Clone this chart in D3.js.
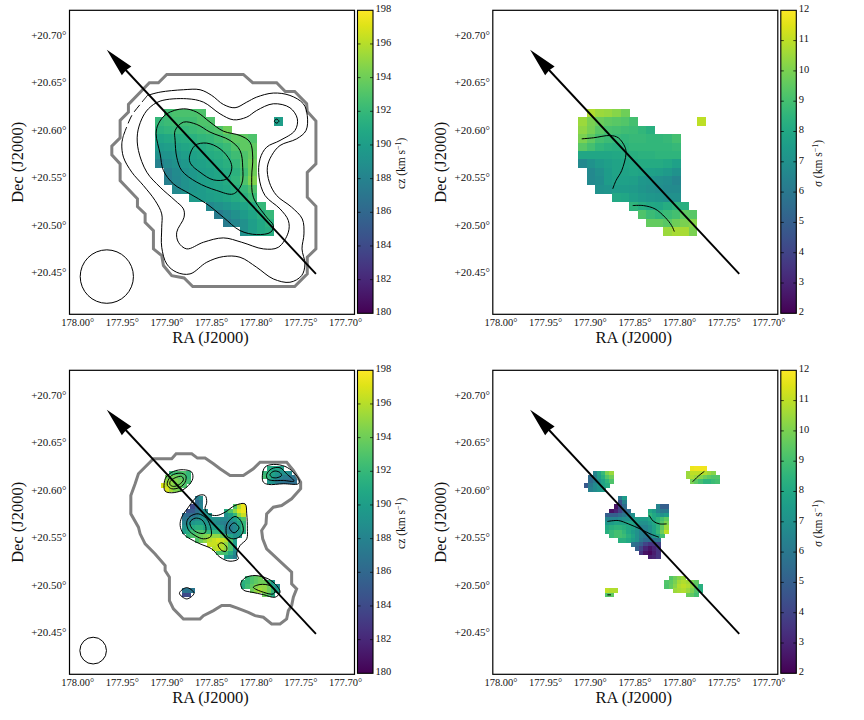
<!DOCTYPE html>
<html>
<head>
<meta charset="utf-8">
<script src="https://cdn.jsdelivr.net/npm/d3@7"></script>
<style>
  html, body { margin: 0; padding: 0; background: #fff; }
  svg { display: block; }
  text { font-family: "Liberation Serif", serif; fill: #111; }
</style>
</head>
<body>
<div id="chart"></div>
<script>
// sky axes, all four panels share them
const raTicks = [178.00, 177.95, 177.90, 177.85, 177.80, 177.75, 177.70]
const decTicks = [20.70, 20.65, 20.60, 20.55, 20.50, 20.45]
const czTicks = [180, 182, 184, 186, 188, 190, 192, 194, 196, 198]
const sigmaTicks = [2, 3, 4, 5, 6, 7, 8, 9, 10, 11, 12]

// pixel grids of the maps: first edge and step, degrees
const coarseGrid = { ra0: 177.9127, dRa: 0.00949, dec0: 20.6222, dDec: 0.00891 }
const fineGrid = { ra0: 177.9064, dRa: 0.00474, dec0: 20.6247, dDec: 0.00444 }

// rows are [row, first column, values]
const czCoarse = [
  [0, 1, [192.5, 192.8, 192.8, 192.8, 193]],
  [1, 0, [192, 192.3, 192.5, 192.5, 192.5, 193, 193]],
  [1, 14, [190]],
  [2, 0, [191.5, 191.8, 192, 192, 192.2, 192.5, 192.8, 193, 194]],
  [3, 0, [190.5, 190.8, 191, 191.2, 191.4, 191.8, 192, 192.5, 193, 193.5, 193.5, 193]],
  [4, 0, [189.8, 190, 190.3, 190.6, 190.8, 191, 191.4, 191.8, 192.2, 193, 193.5, 193.5]],
  [5, 0, [189, 189.3, 189.6, 190, 190.3, 190.6, 191, 191.3, 191.8, 192.4, 193, 193.7]],
  [6, 0, [188, 188.6, 189.2, 189.6, 190, 190.3, 190.6, 191, 191.4, 192, 193, 194]],
  [7, 1, [187.8, 188.6, 189.2, 189.6, 190, 190.3, 190.6, 191, 191.5, 192.5, 194]],
  [8, 1, [187.8, 188.5, 189.2, 189.6, 190, 190.3, 190.6, 191, 191.8, 193, 194.5]],
  [9, 2, [188.5, 189, 189.5, 189.8, 190.2, 190.5, 190.8, 191.2, 192, 193]],
  [10, 4, [189.8, 189.8, 190, 190.3, 190.6, 191, 191.5, 192.3]],
  [11, 6, [188.5, 189, 189.5, 190, 190.5, 191, 192]],
  [12, 7, [187.5, 188.3, 189, 189.8, 190.5, 191.3, 192]],
  [13, 8, [187.5, 188.3, 189, 190, 190.8, 191.5]],
  [14, 10, [189, 190, 190.8, 191.2]]
]

const sigmaCoarse = [
  [0, 1, [10.8, 10.5, 10.4, 10.2, 9.8]],
  [1, 0, [10.5, 10, 9.7, 9.5, 9.4, 9.3, 9]],
  [1, 14, [11]],
  [2, 0, [10.3, 9.9, 9.4, 9.1, 9, 8.9, 8.8, 8.6, 8.3]],
  [3, 0, [10, 9.5, 9, 8.8, 8.7, 8.6, 8.7, 8.7, 8.6, 8.6, 8.7, 9]],
  [4, 0, [9.4, 9, 8.6, 8.4, 8.3, 8.4, 8.6, 8.6, 8.6, 8.6, 8.6, 8.7]],
  [5, 0, [7.9, 7.9, 7.9, 7.9, 8, 8.1, 8.3, 8.4, 8.4, 8.5, 8.5, 8.5]],
  [6, 0, [6.7, 7.1, 7.4, 7.6, 7.8, 7.9, 8, 8.1, 8.1, 8.1, 8, 7.7]],
  [7, 1, [6.7, 7, 7.5, 7.8, 7.8, 7.9, 7.8, 7.7, 7.6, 7.4, 7.1]],
  [8, 1, [6.7, 6.9, 7.5, 7.7, 7.7, 7.6, 7.3, 7.2, 7, 6.9, 6.6]],
  [9, 2, [7.1, 7.2, 7.5, 7.5, 7.4, 7.2, 7, 6.9, 6.8, 6.8]],
  [10, 4, [8, 7.9, 7.6, 7.4, 7.3, 7.2, 7, 7]],
  [11, 6, [8.5, 8.2, 8, 7.9, 8.2, 8.5, 8.3]],
  [12, 7, [9.2, 8.8, 8.6, 8.8, 9, 9.5, 9.4]],
  [13, 8, [9.6, 9.6, 9.4, 9.8, 10, 10.2]],
  [14, 10, [10.5, 10.7, 10.7, 10]]
]

const czFine = [
  [0, 25, [191, 190.5, 190.5, 190]],
  [1, 2, [192, 192.5, 193, 193, 192]],
  [1, 24, [192, 191.5, 190.5, 189.5, 189, 189, 188.5]],
  [2, 1, [194, 194, 194, 193.5, 193, 192]],
  [2, 24, [192.5, 191.5, 190, 189, 188, 187.5, 187, 187]],
  [3, 1, [195, 195, 194.5, 194, 193.5, 192.5]],
  [3, 25, [189.5, 189, 187.5, 187, 186.5, 186.5, 186.5]],
  [4, 0, [197, 196, 195, 194.5, 194, 193]],
  [5, 1, [197, 195.5, 194.5, 194]],
  [7, 8, [187.5, 189]],
  [8, 8, [186, 187.5]],
  [9, 7, [184, 186, 188]],
  [9, 17, [193, 196, 197.5]],
  [10, 6, [184.5, 185, 186.5, 188, 189]],
  [10, 15, [191, 193, 195, 197, 197.5]],
  [11, 5, [186.5, 186, 186.5, 187.5, 188.5, 189, 189.5]],
  [11, 15, [189, 190, 192, 195, 196.5]],
  [12, 5, [187, 187.5, 188, 189, 189, 189, 189, 189, 189, 188.5, 188.5, 189, 190, 191.5, 193]],
  [13, 5, [188, 188.5, 189.5, 190, 190, 189.5, 189, 189, 188.5, 188, 187.5, 188, 189, 190.5, 192]],
  [14, 5, [189, 190, 191, 191.5, 191.5, 190.5, 190, 190, 190, 189, 187.5, 187.5, 188.5, 190, 192]],
  [15, 5, [190, 191, 192.5, 193, 193, 192.5, 192, 192, 192, 190.5, 188.5, 188, 188.5, 189.5, 191]],
  [16, 6, [192, 193, 193.5, 194, 194.5, 195, 195, 195, 194, 192.5, 190.5, 189, 189.5]],
  [17, 8, [193, 194, 195, 196, 196.5, 197, 196.5, 196, 193, 190]],
  [18, 11, [196.5, 196.5, 196.5, 196, 195, 193, 190]],
  [19, 12, [196, 196.5, 196, 195, 193, 189]],
  [20, 13, [193, 193, 192.5, 191, 188.5]],
  [21, 15, [190, 189, 187.5]],
  [26, 20, [192, 193, 193.5, 194]],
  [27, 19, [191.5, 192, 193, 193.5, 194, 194, 192, 189.5]],
  [28, 19, [191, 192.5, 193.5, 194.5, 195, 195, 194, 190.5, 188.5]],
  [29, 5, [187, 187, 187]],
  [29, 21, [194, 195, 195.5, 195, 194, 192, 190]],
  [30, 5, [184, 184]],
  [30, 24, [194, 193, 191]]
]

const sigmaFine = [
  [0, 25, [11.7, 11.8, 11.8, 11.8]],
  [1, 2, [6.5, 7.8, 8.7, 10, 10.5]],
  [1, 24, [10.5, 11, 11, 11, 10.8, 10.5, 10.2]],
  [2, 1, [5.5, 6.3, 7.5, 8.3, 9.3, 9.8]],
  [2, 24, [10.5, 10.8, 10.5, 10.2, 9.8, 9.5, 9.3, 9.3]],
  [3, 1, [5.5, 6.2, 7, 7.8, 8.5, 9.2]],
  [3, 25, [10, 9.5, 9, 8.5, 8.5, 8.8, 9]],
  [4, 0, [4.7, 6, 6.8, 7.3, 7.8, 8.2]],
  [5, 1, [6.3, 6.8, 7.2, 7.5]],
  [7, 8, [6, 7.5]],
  [8, 8, [4.5, 6.3]],
  [9, 7, [2.5, 4, 5.5]],
  [9, 17, [6.5, 5, 5]],
  [10, 6, [2.5, 3, 4, 5, 5.5]],
  [10, 15, [8, 7.5, 6.5, 6, 6]],
  [11, 5, [5, 5, 5, 5.5, 6, 6.5, 7]],
  [11, 15, [8.5, 8, 7.5, 7, 7.5]],
  [12, 5, [6.5, 6.5, 6.5, 6.8, 7, 7, 7.2, 7.5, 7.5, 7.5, 8, 8, 8.5, 9, 9.5]],
  [13, 5, [7.3, 7.5, 7.8, 7.8, 7.8, 7.8, 7.8, 7.5, 7, 7, 7.5, 8, 8.5, 9.3, 10]],
  [14, 5, [8, 8.3, 8.5, 8.5, 8.3, 8, 7.8, 7.2, 6.5, 6.5, 7, 7.8, 8.5, 9.5, 10.5]],
  [15, 5, [8.3, 8.7, 9, 9, 8.6, 8, 7.5, 7, 6.3, 6.3, 7, 7.8, 8.7, 9.8, 11]],
  [16, 6, [8.7, 9, 9, 8.8, 8.3, 7.8, 7, 6.3, 6, 6.3, 7.2, 8, 9]],
  [17, 8, [8.3, 8.3, 8, 7.5, 7, 6, 5.5, 5.5, 5.8, 6]],
  [18, 11, [5.8, 5.5, 5, 4, 3.5, 3.5, 4]],
  [19, 12, [5, 4, 3, 2.5, 3, 3.5]],
  [20, 13, [3.5, 2.5, 2.2, 2.8, 3.5]],
  [21, 15, [2.8, 3, 3.5]],
  [26, 20, [9.3, 9.8, 10.2, 10.5]],
  [27, 19, [9.3, 9.5, 10, 10.6, 10.8, 10.6, 10, 9.5]],
  [28, 19, [9.2, 9.6, 10.2, 10.8, 11, 10.8, 10.3, 9.5, 8.3]],
  [29, 5, [11, 10.8, 10.8]],
  [29, 21, [10.5, 10.7, 10.8, 10.5, 10, 9.3, 8.3]],
  [30, 5, [9.3, 9.5]],
  [30, 24, [9.7, 9.5, 9]]
]

// the position-angle arrow: tip then tail, [ra, dec]
const arrowEnds = [[177.9668, 20.6845], [177.7326, 20.448]]

// beam: centre ra, dec and radius along each axis, degrees
const beamTop = [177.9668, 20.4452, 0.0298, 0.0282]
const beamBottom = [177.9821, 20.4304, 0.0149, 0.0141]

// mask outlines, [ra, dec]
const outlineTop = [
  [177.8997, 20.6585], [177.8139, 20.6585], [177.8034, 20.6497], [177.7766, 20.6497], [177.7669, 20.6405],
  [177.7564, 20.6405], [177.7430, 20.6275], [177.7423, 20.6194], [177.7326, 20.6092], [177.7326, 20.5641],
  [177.7423, 20.5550], [177.7423, 20.5289], [177.7326, 20.5194], [177.7326, 20.4744], [177.7423, 20.4656],
  [177.7423, 20.4480], [177.7564, 20.4346], [177.8706, 20.4346], [177.8803, 20.4437], [177.8941, 20.4462],
  [177.9034, 20.4568], [177.9053, 20.4673], [177.9146, 20.4744], [177.9146, 20.4937], [177.9239, 20.5025],
  [177.9239, 20.5113], [177.9325, 20.5191], [177.9325, 20.5272], [177.9519, 20.5465], [177.9519, 20.5641],
  [177.9612, 20.5736], [177.9612, 20.5828], [177.9519, 20.5916], [177.9519, 20.6099], [177.9426, 20.6187],
  [177.9426, 20.6268], [177.9191, 20.6497], [177.9090, 20.6497]
]

const outlineBottom = [
  [177.9146, 20.6328], [177.8941, 20.6328], [177.8892, 20.6380], [177.8717, 20.6380], [177.8653, 20.6335],
  [177.8568, 20.6335], [177.8474, 20.6275], [177.8400, 20.6222], [177.8288, 20.6152], [177.8139, 20.6152],
  [177.8027, 20.6222], [177.7952, 20.6292], [177.7654, 20.6292], [177.7579, 20.6204], [177.7497, 20.6081],
  [177.7497, 20.6011], [177.7598, 20.5905], [177.7710, 20.5835], [177.7803, 20.5817], [177.7878, 20.5747],
  [177.7885, 20.5641], [177.7934, 20.5571], [177.7922, 20.5483], [177.7878, 20.5377], [177.7598, 20.5131],
  [177.7598, 20.5008], [177.7542, 20.4955], [177.7579, 20.4867], [177.7598, 20.4779], [177.7635, 20.4726],
  [177.7654, 20.4638], [177.7728, 20.4585], [177.7822, 20.4585], [177.7915, 20.4656], [177.8008, 20.4673],
  [177.8083, 20.4708], [177.8213, 20.4754], [177.8288, 20.4779], [177.8381, 20.4779], [177.8474, 20.4726],
  [177.8586, 20.4673], [177.8624, 20.4638], [177.8810, 20.4638], [177.8922, 20.4744], [177.8967, 20.4832],
  [177.8967, 20.5078], [177.9015, 20.5148], [177.9015, 20.5201], [177.9127, 20.5324], [177.9239, 20.5430],
  [177.9295, 20.5536], [177.9314, 20.5606], [177.9399, 20.5747], [177.9399, 20.5940], [177.9351, 20.6064],
  [177.9314, 20.6169]
]

// flux contours of the top left map
const fluxTopDashed = [[177.9482, 20.5940], [177.9388, 20.6152], [177.9295, 20.6268], [177.9213, 20.6363]]
const fluxTopOuter = [
  [177.9213, 20.6363], [177.9071, 20.6398], [177.8810, 20.6423], [177.8624, 20.6423], [177.8493, 20.6363],
  [177.8363, 20.6268], [177.8232, 20.6233], [177.8101, 20.6292], [177.7990, 20.6345], [177.7803, 20.6388],
  [177.7617, 20.6363], [177.7467, 20.6275], [177.7423, 20.6152], [177.7437, 20.5993], [177.7542, 20.5905],
  [177.7728, 20.5835], [177.7822, 20.5729], [177.7870, 20.5606], [177.7848, 20.5448], [177.7766, 20.5307],
  [177.7598, 20.5184], [177.7479, 20.5060], [177.7460, 20.4902], [177.7482, 20.4744], [177.7449, 20.4585],
  [177.7486, 20.4462], [177.7617, 20.4392], [177.7803, 20.4427], [177.7990, 20.4550], [177.8176, 20.4656],
  [177.8363, 20.4663], [177.8549, 20.4603], [177.8736, 20.4480], [177.8885, 20.4497], [177.8997, 20.4585],
  [177.9053, 20.4761], [177.9053, 20.4972], [177.9053, 20.5113], [177.9127, 20.5254], [177.9258, 20.5412],
  [177.9388, 20.5553], [177.9482, 20.5712], [177.9500, 20.5852], [177.9482, 20.5940]
]
const fluxTopB = [
  [177.9202, 20.6222], [177.9071, 20.6303], [177.8773, 20.6328], [177.8586, 20.6292], [177.8400, 20.6169],
  [177.8251, 20.6106], [177.8101, 20.6134], [177.7990, 20.6204], [177.7803, 20.6275], [177.7617, 20.6233],
  [177.7534, 20.6116], [177.7561, 20.5993], [177.7728, 20.5888], [177.7878, 20.5817], [177.7952, 20.5694],
  [177.7963, 20.5500], [177.7896, 20.5307], [177.7728, 20.5166], [177.7635, 20.5043], [177.7635, 20.4920],
  [177.7747, 20.4761], [177.7915, 20.4744], [177.8157, 20.4814], [177.8363, 20.4860], [177.8586, 20.4814],
  [177.8773, 20.4744], [177.8866, 20.4814], [177.8885, 20.4920], [177.8803, 20.5078], [177.8810, 20.5166],
  [177.8903, 20.5254], [177.9071, 20.5395], [177.9220, 20.5553], [177.9314, 20.5782], [177.9325, 20.5958],
  [177.9276, 20.6116]
]
const fluxTopC = [
  [177.9090, 20.6064], [177.8997, 20.6169], [177.8810, 20.6222], [177.8661, 20.6187], [177.8512, 20.6081],
  [177.8363, 20.5986], [177.8176, 20.5940], [177.8064, 20.5870], [177.8034, 20.5712], [177.8045, 20.5500],
  [177.8027, 20.5289], [177.7878, 20.5078], [177.7803, 20.4990], [177.7833, 20.4920], [177.7990, 20.4895],
  [177.8176, 20.4937], [177.8363, 20.5078], [177.8549, 20.5219], [177.8736, 20.5324], [177.8922, 20.5430],
  [177.9034, 20.5571], [177.9071, 20.5747], [177.9116, 20.5958]
]
const fluxTopD = [
  [177.8903, 20.5993], [177.8810, 20.6081], [177.8661, 20.6057], [177.8512, 20.5976], [177.8288, 20.5888],
  [177.8176, 20.5782], [177.8146, 20.5606], [177.8157, 20.5430], [177.8251, 20.5324], [177.8437, 20.5360],
  [177.8661, 20.5448], [177.8829, 20.5571], [177.8885, 20.5712], [177.8903, 20.5888]
]
const fluxTopE = [
  [177.8743, 20.5712], [177.8680, 20.5835], [177.8549, 20.5860], [177.8400, 20.5800], [177.8288, 20.5676],
  [177.8269, 20.5588], [177.8325, 20.5483], [177.8474, 20.5472], [177.8624, 20.5553], [177.8728, 20.5641]
]
const fluxTopDot = [[177.7792, 20.6092], [177.7766, 20.6113], [177.7740, 20.6092], [177.7766, 20.6071]]

// sigma-map contours are open lines
const sigmaTopLines = [
  [[177.9090, 20.5905], [177.8959, 20.5916], [177.8773, 20.5940], [177.8680, 20.5916], [177.8605, 20.5817],
   [177.8594, 20.5747], [177.8642, 20.5571], [177.8706, 20.5465], [177.8743, 20.5377]],
  [[177.8519, 20.5201], [177.8400, 20.5201], [177.8269, 20.5166], [177.8157, 20.5078], [177.8083, 20.4990],
   [177.8053, 20.4927]]
]

// flux contours of the bottom left map
const fluxBottom = [
  [[177.9026, 20.6064], [177.9004, 20.6134], [177.8922, 20.6194], [177.8810, 20.6212], [177.8717, 20.6187],
   [177.8706, 20.6116], [177.8754, 20.6046], [177.8829, 20.5993], [177.8941, 20.5969], [177.9015, 20.5986]],
  [[177.8989, 20.6081], [177.8941, 20.6152], [177.8847, 20.6176], [177.8784, 20.6152], [177.8791, 20.6081],
   [177.8847, 20.6028], [177.8941, 20.6011], [177.8989, 20.6046]],
  [[177.8959, 20.6088], [177.8903, 20.6127], [177.8829, 20.6141], [177.8810, 20.6106], [177.8855, 20.6057],
   [177.8922, 20.6036], [177.8959, 20.6053]],
  [[177.8847, 20.5624], [177.8829, 20.5712], [177.8754, 20.5817], [177.8698, 20.5888], [177.8642, 20.5940],
   [177.8568, 20.5940], [177.8549, 20.5870], [177.8568, 20.5800], [177.8530, 20.5747], [177.8437, 20.5729],
   [177.8344, 20.5764], [177.8232, 20.5835], [177.8120, 20.5852], [177.8101, 20.5747], [177.8094, 20.5588],
   [177.8101, 20.5483], [177.8176, 20.5412], [177.8213, 20.5324], [177.8195, 20.5272], [177.8288, 20.5247],
   [177.8400, 20.5289], [177.8493, 20.5377], [177.8624, 20.5430], [177.8736, 20.5483], [177.8810, 20.5536]],
  [[177.8773, 20.5659], [177.8736, 20.5719], [177.8642, 20.5747], [177.8549, 20.5694], [177.8501, 20.5588],
   [177.8504, 20.5508], [177.8586, 20.5483], [177.8680, 20.5518], [177.8754, 20.5578]],
  [[177.8736, 20.5659], [177.8680, 20.5701], [177.8605, 20.5684], [177.8560, 20.5613], [177.8568, 20.5546],
   [177.8642, 20.5546], [177.8717, 20.5596]],
  [[177.8333, 20.5571], [177.8318, 20.5648], [177.8232, 20.5719], [177.8169, 20.5676], [177.8139, 20.5571],
   [177.8176, 20.5508], [177.8251, 20.5483], [177.8318, 20.5508]],
  [[177.8295, 20.5599], [177.8243, 20.5652], [177.8187, 20.5599], [177.8243, 20.5546]],
  [[177.8422, 20.5420], [177.8381, 20.5441], [177.8325, 20.5395], [177.8333, 20.5353], [177.8381, 20.5360]],
  [[177.7926, 20.6152], [177.7896, 20.6240], [177.7803, 20.6268], [177.7672, 20.6247], [177.7579, 20.6187],
   [177.7512, 20.6099], [177.7523, 20.6064], [177.7691, 20.6064], [177.7859, 20.6057], [177.7915, 20.6081]],
  [[177.7878, 20.6162], [177.7822, 20.6222], [177.7728, 20.6233], [177.7654, 20.6169], [177.7572, 20.6092],
   [177.7691, 20.6099], [177.7822, 20.6099], [177.7870, 20.6116]],
  [[177.7840, 20.6162], [177.7796, 20.6197], [177.7736, 20.6187], [177.7710, 20.6152], [177.7766, 20.6127],
   [177.7822, 20.6134]],
  [[177.8169, 20.5008], [177.8120, 20.5071], [177.8008, 20.5096], [177.7859, 20.5060], [177.7766, 20.4990],
   [177.7728, 20.4920], [177.7784, 20.4867], [177.7915, 20.4895], [177.8045, 20.4920], [177.8139, 20.4944]],
  [[177.8027, 20.4972], [177.7952, 20.5001], [177.7840, 20.4990], [177.7784, 20.4944], [177.7803, 20.4902],
   [177.7915, 20.4920]],
  [[177.8855, 20.4909], [177.8773, 20.4969], [177.8691, 20.4909], [177.8773, 20.4849]]
]

const sigmaBottomLines = [
  [[177.8803, 20.5666], [177.8680, 20.5676], [177.8568, 20.5641], [177.8437, 20.5588], [177.8325, 20.5536],
   [177.8225, 20.5500]],
  [[177.8333, 20.5729], [177.8288, 20.5669], [177.8221, 20.5641], [177.8139, 20.5641]],
  [[177.7848, 20.6085], [177.7784, 20.6145], [177.7717, 20.6194]],
  [[177.8803, 20.4892], [177.8762, 20.4892]]
]

const plotW = 285
const plotH = 304
const cbW = 15.5

const x = d3.scaleLinear().domain([178.0086, 177.6894]).range([0, plotW])
const y = d3.scaleLinear().domain([20.7261, 20.4054]).range([0, plotH])
const czColor = d3.scaleSequential(d3.interpolateViridis).domain([180, 198])
const sigmaColor = d3.scaleSequential(d3.interpolateViridis).domain([2, 12])

const closedLine = d3.line().x(d => x(d[0])).y(d => y(d[1])).curve(d3.curveCatmullRomClosed.alpha(0.5))
const openLine = d3.line().x(d => x(d[0])).y(d => y(d[1])).curve(d3.curveCatmullRom.alpha(0.5))
const polyLine = d3.line().x(d => x(d[0])).y(d => y(d[1])).curve(d3.curveLinearClosed)

const svg = d3.select('#chart').append('svg').attr('width', 864).attr('height', 720)

const defs = svg.append('defs')
const gradient = defs.append('linearGradient').attr('id', 'viridis')
  .attr('x1', 0).attr('x2', 0).attr('y1', 1).attr('y2', 0)
d3.range(0, 1.001, 0.05).forEach(t => {
  gradient.append('stop').attr('offset', t).attr('stop-color', d3.interpolateViridis(t))
})

function drawCells(g, rows, grid, color) {
  const cells = rows.flatMap(([row, col, values]) =>
    values.map((v, i) => ({ row, col: col + i, v })))
  g.append('g').attr('shape-rendering', 'crispEdges').selectAll('rect')
    .data(cells)
    .enter()
    .append('rect')
    .attr('x', d => x(grid.ra0 - d.col * grid.dRa))
    .attr('y', d => y(grid.dec0 - d.row * grid.dDec))
    .attr('width', d => x(grid.ra0 - (d.col + 1) * grid.dRa) - x(grid.ra0 - d.col * grid.dRa) + 0.4)
    .attr('height', d => y(grid.dec0 - (d.row + 1) * grid.dDec) - y(grid.dec0 - d.row * grid.dDec) + 0.4)
    .attr('fill', d => color(d.v))
}

function drawArrow(g) {
  const [tip, tail] = arrowEnds.map(p => [x(p[0]), y(p[1])])
  const len = Math.hypot(tail[0] - tip[0], tail[1] - tip[1])
  const ux = (tail[0] - tip[0]) / len
  const uy = (tail[1] - tip[1]) / len
  const headLen = 29
  const headHalf = 6.5
  const at = (along, side) => [tip[0] + ux * along - uy * side, tip[1] + uy * along + ux * side]
  g.append('line')
    .attr('x1', at(headLen - 4, 0)[0]).attr('y1', at(headLen - 4, 0)[1])
    .attr('x2', tail[0]).attr('y2', tail[1])
    .attr('stroke', '#000').attr('stroke-width', 1.9)
  g.append('path')
    .attr('d', 'M' + [at(0, 0), at(headLen, headHalf), at(headLen - 1, 0), at(headLen, -headHalf)].join('L') + 'Z')
    .attr('fill', '#000')
}

function drawPanel({ left, top, rows, grid, color, domain, ticks, cbLabel, cbItalic, cbGap, outline, closed, open, dashed, beam }) {
  const g = svg.append('g').attr('transform', `translate(${left},${top})`)

  drawCells(g, rows, grid, color)

  if (outline) {
    g.append('path').attr('d', polyLine(outline))
      .attr('fill', 'none').attr('stroke', '#808080').attr('stroke-width', 3)
  }

  const lines = g.append('g').attr('fill', 'none').attr('stroke', '#000').attr('stroke-width', 1)
  ;(closed || []).forEach(c => lines.append('path').attr('d', closedLine(c)))
  ;(open || []).forEach(c => lines.append('path').attr('d', openLine(c)))
  if (dashed) {
    lines.append('path').attr('d', openLine(dashed)).attr('stroke-dasharray', '9 4')
  }
  if (beam) {
    lines.append('ellipse')
      .attr('cx', x(beam[0])).attr('cy', y(beam[1]))
      .attr('rx', x(beam[0] - beam[2]) - x(beam[0]))
      .attr('ry', y(beam[1] - beam[3]) - y(beam[1]))
  }

  drawArrow(g)

  g.append('rect').attr('width', plotW).attr('height', plotH)
    .attr('fill', 'none').attr('stroke', '#000').attr('stroke-width', 1.2)

  // no tick marks on the sky axes, only the labels
  const xAxis = g.append('g').attr('transform', `translate(0,${plotH})`)
    .call(d3.axisBottom(x).tickValues(raTicks).tickSize(0).tickPadding(4).tickFormat(d => d.toFixed(2) + '°'))
  const yAxis = g.append('g')
    .call(d3.axisLeft(y).tickValues(decTicks).tickSize(0).tickPadding(3).tickFormat(d => '+' + d.toFixed(2) + '°'))
  for (const a of [xAxis, yAxis]) {
    a.select('.domain').remove()
    a.selectAll('text').attr('font-family', '"Liberation Serif", serif').attr('fill', '#222')
  }
  xAxis.selectAll('text').attr('font-size', 10.5)
  yAxis.selectAll('text').attr('font-size', 11)

  g.append('text').attr('x', plotW / 2 - 1.5).attr('y', plotH + 29)
    .attr('text-anchor', 'middle').attr('font-size', 16.5).text('RA (J2000)')
  g.append('text')
    .attr('transform', `translate(-47,${plotH / 2}) rotate(-90)`)
    .attr('text-anchor', 'middle').attr('font-size', 16.5).text('Dec (J2000)')

  // colour bar
  const cb = g.append('g').attr('transform', `translate(${plotW + 3},0)`)
  const cbY = d3.scaleLinear().domain(domain).range([plotH - 1, 0])
  cb.append('rect').attr('width', cbW).attr('height', plotH - 1)
    .attr('fill', 'url(#viridis)').attr('stroke', '#000').attr('stroke-width', 1.1)
  const inner = ticks.slice(1, -1)
  cb.append('g').selectAll('line').data(inner).enter().append('line')
    .attr('x1', 0).attr('x2', 3).attr('y1', d => cbY(d)).attr('y2', d => cbY(d))
    .attr('stroke', '#000').attr('stroke-width', 0.7)
  cb.append('g').selectAll('line').data(inner).enter().append('line')
    .attr('x1', cbW - 3).attr('x2', cbW).attr('y1', d => cbY(d)).attr('y2', d => cbY(d))
    .attr('stroke', '#000').attr('stroke-width', 0.7)
  const cbAxis = cb.append('g').attr('transform', `translate(${cbW},-2)`)
    .call(d3.axisRight(cbY).tickValues(ticks).tickSize(0).tickPadding(2.5))
  cbAxis.select('.domain').remove()
  cbAxis.selectAll('text').attr('font-size', 10.5).attr('font-family', '"Liberation Serif", serif').attr('fill', '#222')

  const label = cb.append('text')
    .attr('transform', `translate(${cbW + cbGap},${plotH / 2 + 1}) rotate(-90)`)
    .attr('text-anchor', 'middle').attr('font-size', 11.5)
  label.append('tspan').attr('font-style', cbItalic ? 'italic' : 'normal').text(cbLabel)
  label.append('tspan').text(' (km s')
  label.append('tspan').attr('font-size', 8).attr('dy', -4).text('−1')
  label.append('tspan').attr('dy', 4).text(')')
}

const colLeft = 69.5
const colRight = 492.8
const rowTop = 10.3
const rowBottom = 370.3

drawPanel({
  left: colLeft, top: rowTop, rows: czCoarse, grid: coarseGrid, color: czColor,
  domain: [180, 198], ticks: czTicks, cbLabel: 'cz', cbGap: 31.5,
  outline: outlineTop, dashed: fluxTopDashed, beam: beamTop,
  closed: [fluxTopB, fluxTopC, fluxTopD, fluxTopE, fluxTopDot],
  open: [fluxTopOuter]
})
drawPanel({
  left: colRight, top: rowTop, rows: sigmaCoarse, grid: coarseGrid, color: sigmaColor,
  domain: [2, 12], ticks: sigmaTicks, cbLabel: 'σ', cbItalic: true, cbGap: 25.5,
  open: sigmaTopLines
})
drawPanel({
  left: colLeft, top: rowBottom, rows: czFine, grid: fineGrid, color: czColor,
  domain: [180, 198], ticks: czTicks, cbLabel: 'cz', cbGap: 31.5,
  outline: outlineBottom, beam: beamBottom, closed: fluxBottom
})
drawPanel({
  left: colRight, top: rowBottom, rows: sigmaFine, grid: fineGrid, color: sigmaColor,
  domain: [2, 12], ticks: sigmaTicks, cbLabel: 'σ', cbItalic: true, cbGap: 25.5,
  open: sigmaBottomLines
})
</script>
</body>
</html>
